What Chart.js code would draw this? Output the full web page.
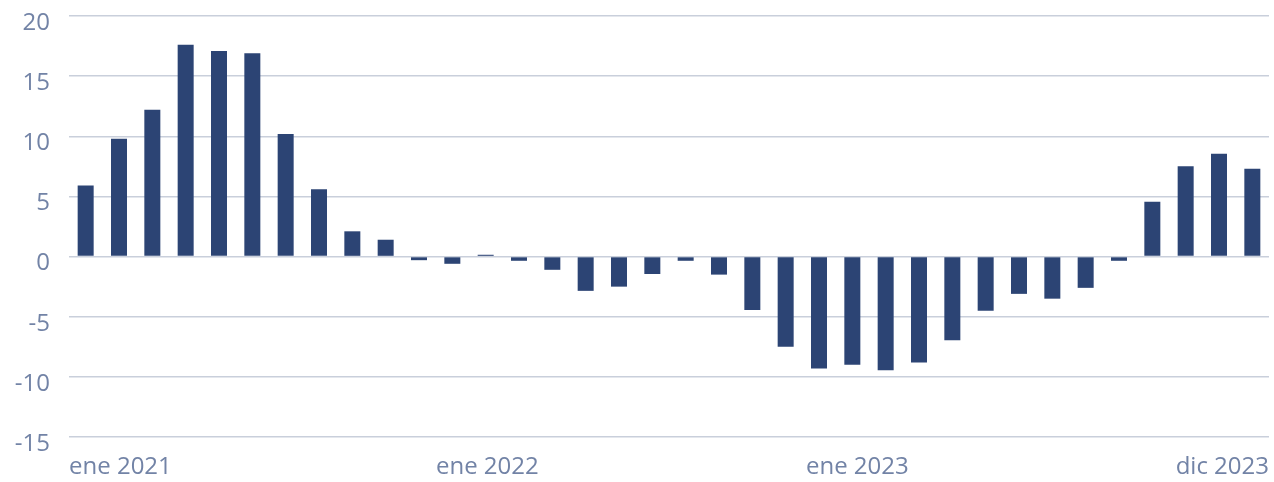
<!DOCTYPE html>
<html>
<head>
<meta charset="utf-8">
<script src="https://cdn.jsdelivr.net/npm/chart.js@4"></script>
<style>
  html, body { margin: 0; padding: 0; background: #ffffff; }
  #wrap { width: 1274px; height: 482px; position: relative; }
</style>
</head>
<body>
<div id="wrap"><canvas id="c"></canvas></div>
<script>
const months = [
  'ene 2021','feb 2021','mar 2021','abr 2021','may 2021','jun 2021','jul 2021','ago 2021','sep 2021','oct 2021','nov 2021','dic 2021',
  'ene 2022','feb 2022','mar 2022','abr 2022','may 2022','jun 2022','jul 2022','ago 2022','sep 2022','oct 2022','nov 2022','dic 2022',
  'ene 2023','feb 2023','mar 2023','abr 2023','may 2023','jun 2023','jul 2023','ago 2023','sep 2023','oct 2023','nov 2023','dic 2023'
];
const values = [
  5.9, 9.8, 12.2, 17.6, 17.1, 16.9, 10.2, 5.6, 2.1, 1.4, -0.3, -0.6,
  0.15, -0.35, -1.1, -2.85, -2.5, -1.45, -0.35, -1.5, -4.45, -7.5, -9.3, -9.0,
  -9.45, -8.8, -6.95, -4.5, -3.1, -3.5, -2.6, -0.35, 4.55, 7.5, 8.55, 7.3
];
const tickLabels = ['ene 2021', 'ene 2022', 'ene 2023', 'dic 2023'];
const yTicks = [-15, -10, -5, 0, 5, 10, 15, 20];

const labelColor = '#7283a6';
const gridColor = '#c9cfdb';
const barColor = '#2c4474';
const font = { family: 'Open Sans', size: 24 };

// where the sparse axis labels sit, in month-index units
const tickSpots = [-0.5, 12.05, 23.15, 35.5];

new Chart(document.getElementById('c'), {
  type: 'bar',
  data: {
    labels: months,
    datasets: [{
      data: values,
      backgroundColor: barColor,
      borderWidth: 0,
      categoryPercentage: 1,
      barPercentage: 0.48
    }]
  },
  options: {
    responsive: true,
    maintainAspectRatio: false,
    animation: false,
    layout: { padding: { top: 0, right: 5, left: 0, bottom: 0 } },
    plugins: { legend: { display: false }, tooltip: { enabled: false } },
    scales: {
      x: {
        display: false
      },
      x2: {
        type: 'linear',
        position: 'bottom',
        offset: false,
        min: -0.5,
        max: 35.5,
        grid: { display: false, offset: false },
        border: { display: false },
        afterBuildTicks: (s) => { s.ticks = tickSpots.map(v => ({ value: v })); },
        afterFit: (s) => { s.height = 45; s.paddingLeft = 0; s.paddingRight = 0; },
        ticks: {
          autoSkip: false,
          maxRotation: 0,
          align: 'inner',
          padding: 8,
          color: labelColor,
          font: font,
          callback: (v, i) => tickLabels[i]
        }
      },
      y: {
        min: -15,
        max: 20,
        afterBuildTicks: (s) => { s.ticks = yTicks.map(v => ({ value: v })); },
        afterFit: (s) => { s.width = 69; s.paddingTop = 16; s.paddingBottom = 0; },
        grid: { color: gridColor, lineWidth: 1.5, drawTicks: false },
        border: { display: false },
        ticks: {
          padding: 19,
          labelOffset: 7,
          color: labelColor,
          font: font
        }
      }
    }
  }
});
</script>
</body>
</html>
